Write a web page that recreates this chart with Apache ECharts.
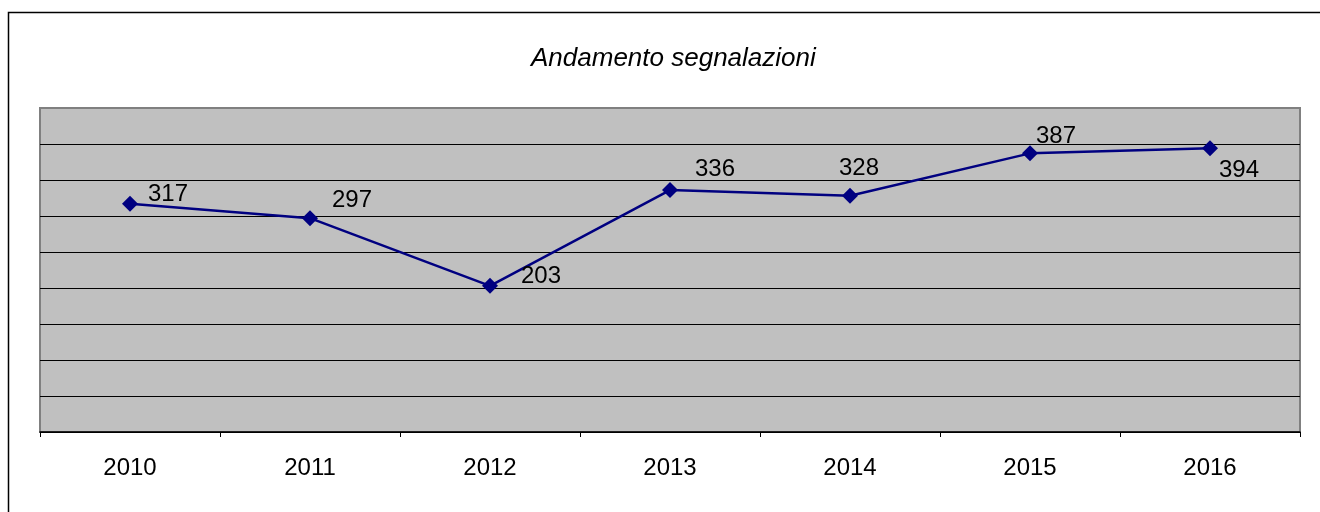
<!DOCTYPE html>
<html>
<head>
<meta charset="utf-8">
<script src="https://cdn.jsdelivr.net/npm/echarts@6/dist/echarts.min.js"></script>
<style>
  html, body { margin: 0; padding: 0; background: #fff; }
  #main { width: 1320px; height: 512px; }
</style>
</head>
<body>
<div id="main"></div>
<script>
// dati
var years = ["2010", "2011", "2012", "2013", "2014", "2015", "2016"]
var segnalazioni = [317, 297, 203, 336, 328, 387, 394]

// spostamento etichette rispetto al punto (solo stile)
var labelShift = [[38, -9], [42, -18], [51, -9], [45, -21], [9, -27], [26, -17], [29, 22]]

var chartDom = document.getElementById("main")
var myChart = echarts.init(chartDom)

var option = {
  animation: false,
  textStyle: { fontFamily: "Liberation Sans, Arial, sans-serif" },
  title: {
    text: "Andamento segnalazioni",
    left: 526,
    top: 41,
    textStyle: {
      fontSize: 26,
      fontStyle: "italic",
      fontWeight: "normal",
      color: "#000",
      fontFamily: "Liberation Sans, Arial, sans-serif"
    }
  },
  graphic: [
    {
      type: "rect",
      shape: { x: 8.5, y: 12.5, width: 1400, height: 600 },
      style: { fill: "none", stroke: "#000", lineWidth: 1.5 },
      silent: true
    }
  ],
  grid: {
    left: 40,
    right: 20,
    top: 108,
    bottom: 80,
    show: true,
    backgroundColor: "#c0c0c0",
    borderColor: "#808080",
    borderWidth: 2
  },
  xAxis: {
    type: "category",
    data: years,
    boundaryGap: true,
    axisLine: { show: true, lineStyle: { color: "#000", width: 1.5 } },
    axisTick: { show: true, length: 5, lineStyle: { color: "#000" } },
    axisLabel: { fontSize: 24, color: "#000", margin: 24 },
    splitLine: { show: false }
  },
  yAxis: {
    type: "value",
    min: 0,
    max: 450,
    interval: 50,
    axisLine: { show: false },
    axisTick: { show: false },
    axisLabel: { show: false },
    splitLine: { show: true, showMaxLine: false, lineStyle: { color: "#000", width: 1 } }
  },
  series: [
    {
      name: "Segnalazioni",
      type: "line",
      data: segnalazioni.map(function (v, i) {
        return {
          value: v,
          label: { offset: labelShift[i] }
        }
      }),
      symbol: "diamond",
      symbolSize: 16,
      lineStyle: { color: "#000080", width: 2.5 },
      itemStyle: { color: "#000080" },
      label: {
        show: true,
        position: "inside",
        align: "center",
        verticalAlign: "middle",
        fontSize: 24,
        color: "#000",
        fontFamily: "Liberation Sans, Arial, sans-serif"
      }
    }
  ]
}

option && myChart.setOption(option)
</script>
</body>
</html>
